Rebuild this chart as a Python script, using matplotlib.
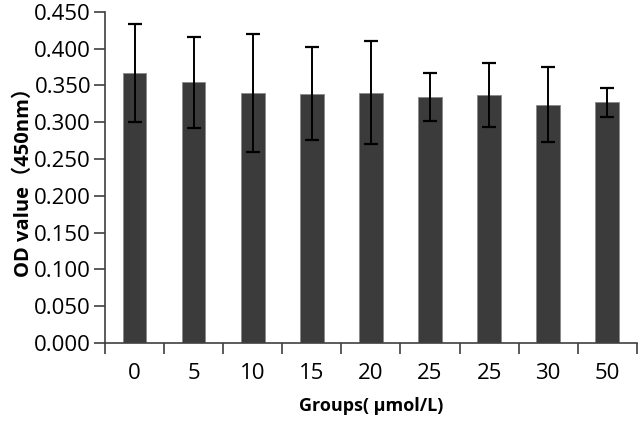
import matplotlib.pyplot as plt
import numpy as np

groups = ["0", "5", "10", "15", "20", "25", "25", "30", "50"]
od_mean = [0.367, 0.354, 0.340, 0.339, 0.340, 0.334, 0.337, 0.324, 0.327]
od_sd = [0.067, 0.062, 0.080, 0.063, 0.070, 0.033, 0.044, 0.051, 0.020]
yticks = [0.0, 0.05, 0.10, 0.15, 0.20, 0.25, 0.30, 0.35, 0.40, 0.45]

fig = plt.figure(figsize=(6.4, 4.21), dpi=100)
ax = fig.add_axes([0.164, 0.185, 0.831, 0.787])

x = np.arange(len(groups))
ax.bar(x, od_mean, width=0.4, color="#3b3b3b", edgecolor="#8a8a8a", linewidth=0.6,
       yerr=od_sd, error_kw=dict(ecolor="black", elinewidth=1.4, capsize=5, capthick=1.6))

ax.set_xlim(-0.5, len(groups) - 0.5)
ax.set_ylim(0, 0.45)
ax.set_yticks(yticks)
ax.set_yticklabels([f"{v:.3f}" for v in yticks])
ax.set_xticks(x)
ax.set_xticklabels(groups)
ax.set_xticks(np.arange(len(groups) + 1) - 0.5, minor=True)
ax.tick_params(axis="x", which="major", length=0, pad=14)
ax.tick_params(axis="x", which="minor", length=8, width=1.2, color="#404040")
ax.tick_params(axis="y", length=8, width=1.2, color="#404040", pad=2)

for lab in ax.get_xticklabels() + ax.get_yticklabels():
    lab.set_family(["Open Sans", "DejaVu Sans"])
    lab.set_fontsize(16)

for s in ["top", "right"]:
    ax.spines[s].set_visible(False)
for s in ["left", "bottom"]:
    ax.spines[s].set_color("#404040")
    ax.spines[s].set_linewidth(1.2)

ax.set_xlabel("Groups( μmol/L)", fontsize=13, fontweight="bold",
              family=["Open Sans", "DejaVu Sans"], labelpad=10)
ax.set_ylabel("OD value（450nm）", fontsize=14.5, fontweight="bold",
              family=["Open Sans", "Noto Sans CJK SC"], labelpad=0)

fig.savefig("out.png", dpi=100)
